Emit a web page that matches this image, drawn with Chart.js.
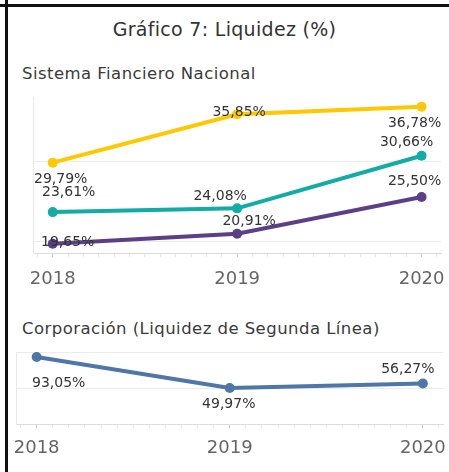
<!DOCTYPE html>
<html>
<head>
<meta charset="utf-8">
<script src="https://cdn.jsdelivr.net/npm/chart.js@4/dist/chart.umd.min.js"></script>
<style>
  body { margin: 0; background: #fff; width: 449px; height: 472px; overflow: hidden; position: relative; font-family: "DejaVu Sans", sans-serif; }
  .frameTop { position: absolute; left: 0; top: 4px; width: 449px; height: 3px; background: #111; }
  .frameLeft { position: absolute; left: 5px; top: 0; width: 3px; height: 472px; background: #111; }
  #title { position: absolute; left: 0; top: 17px; width: 449px; text-align: center; font-size: 19px; letter-spacing: 0.3px; line-height: 24px; color: #333; }
  .sub { position: absolute; left: 22px; font-size: 16.5px; letter-spacing: 0.45px; line-height: 22px; color: #3a3a3a; white-space: nowrap; }
  canvas { position: absolute; left: 0; }
</style>
</head>
<body>
<div class="frameTop"></div>
<div class="frameLeft"></div>
<div id="title">Gráfico 7: Liquidez (%)</div>
<div class="sub" style="top:63px">Sistema Fianciero Nacional</div>
<div class="sub" style="top:318px">Corporación (Liquidez de Segunda Línea)</div>
<canvas id="sistemaChart" width="449" height="203" style="top:90px"></canvas>
<canvas id="corpChart" width="449" height="120" style="top:340px"></canvas>

<script>
// data
const years = [2018, 2019, 2020];
const sistemaAmarillo = [29.79, 35.85, 36.78];
const sistemaTurquesa = [23.61, 24.08, 30.66];
const sistemaMorado = [19.65, 20.91, 25.50];
const corporacion = [93.05, 49.97, 56.27];
const sistemaTicks = [20, 30];
const corporacionTicks = [0, 50, 100];

const fmt = v => v.toFixed(2).replace('.', ',') + '%';
const toPoints = arr => years.map((x, i) => ({ x: x, y: arr[i] }));

// draws the value labels next to each point
const pointLabels = {
    id: 'pointLabels',
    afterDatasetsDraw(chart) {
        const ctx = chart.ctx;
        ctx.save();
        ctx.font = '14px "DejaVu Sans"';
        ctx.fillStyle = '#333';
        ctx.textAlign = 'center';
        ctx.textBaseline = 'middle';
        chart.data.datasets.forEach((ds, i) => {
            chart.getDatasetMeta(i).data.forEach((pt, j) => {
                const off = ds.labelOffsets[j];
                ctx.fillText(fmt(ds.data[j].y), pt.x + off[0], pt.y + off[1]);
            });
        });
        ctx.restore();
    }
};

const line = (label, arr, color, labelOffsets) => ({
    label: label,
    data: toPoints(arr),
    borderColor: color,
    backgroundColor: color,
    pointBackgroundColor: color,
    borderWidth: 4,
    pointRadius: 5,
    pointBorderWidth: 0,
    tension: 0,
    labelOffsets: labelOffsets
});

const makeOptions = (yMin, yMax, yTicks, xHeight, tickPad, padding) => ({
    responsive: false,
    animation: false,
    devicePixelRatio: 1,
    layout: { padding: padding },
    plugins: { legend: { display: false }, tooltip: { enabled: false } },
    scales: {
        x: {
            type: 'linear',
            min: years[0] - 0.107,
            max: years[years.length - 1] + 0.107,
            afterBuildTicks: s => {
                // monthly minor ticks, labelled on the years
                const t = [];
                for (let m = -1; m <= (years.length - 1) * 12 + 1; m++) {
                    const v = years[0] + m / 12;
                    if (v >= s.min && v <= s.max) t.push({ value: v });
                }
                s.ticks = t;
            },
            afterFit: s => { s.height = xHeight; },
            ticks: {
                autoSkip: false,
                maxRotation: 0,
                padding: tickPad,
                font: { family: 'DejaVu Sans', size: 18 },
                color: '#666',
                callback: v => Math.abs(v - Math.round(v)) < 1e-6 ? String(Math.round(v)) : ''
            },
            grid: {
                drawOnChartArea: false,
                tickLength: 4,
                color: c => (c.tick && Math.abs(c.tick.value - Math.round(c.tick.value)) < 1e-6) ? '#c8c8c8' : '#e8e8e8'
            },
            border: { color: '#dcdcdc' }
        },
        y: {
            min: yMin,
            max: yMax,
            afterBuildTicks: s => { s.ticks = yTicks.map(v => ({ value: v })); },
            afterFit: s => { s.width = 0; },
            ticks: { display: false },
            grid: { color: '#ececec', drawTicks: false },
            border: { display: true, color: '#e8e8e8' }
        }
    }
});

new Chart(document.getElementById('sistemaChart'), {
    type: 'line',
    data: {
        datasets: [
            line('Serie 1', sistemaAmarillo, '#FFC800', [[8, 17], [2, -2], [-7, 17]]),
            line('Serie 2', sistemaTurquesa, '#14ABA6', [[16, -20], [-17, -12], [-15, -13]]),
            line('Serie 3', sistemaMorado, '#5C3F87', [[15, -1], [12, -12], [-7, -16]])
        ]
    },
    options: makeOptions(18.5, 38, sistemaTicks, 40, 12, { left: 33, right: 2, top: 7, bottom: 0 }),
    plugins: [pointLabels]
});

new Chart(document.getElementById('corpChart'), {
    type: 'line',
    data: {
        datasets: [
            line('Corporación', corporacion, '#4E77A8', [[22, 26], [-1, 16], [-15, -14]])
        ]
    },
    options: makeOptions(0, 100, corporacionTicks, 36, 10, { left: 16, right: 2, top: 12, bottom: 0 }),
    plugins: [pointLabels]
});
</script>
</body>
</html>
